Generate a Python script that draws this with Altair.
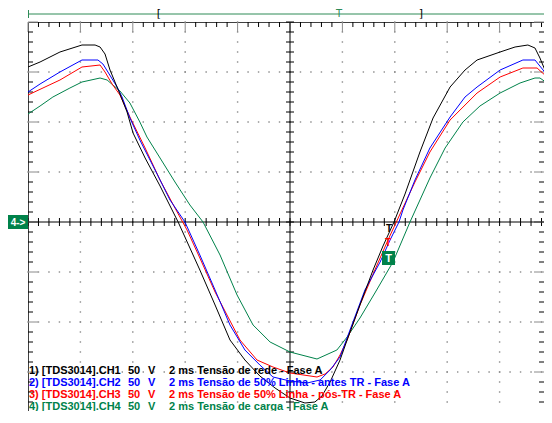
import altair as alt
import pandas as pd
import numpy as np

# ---------------- data (time in ms, voltage in V) ----------------
T_CH1 = [0, 0.46, 1.22, 2.06, 2.56, 2.75, 2.94, 3.13, 3.32, 3.51, 3.78, 4.01, 4.47, 5.04, 5.73, 6.18, 6.56, 7.14,
         7.71, 8.28, 8.85, 9.43, 10.0, 10.57, 10.95, 11.22, 11.53, 11.91, 12.18, 12.67, 13.17, 13.55, 13.97, 14.39,
         14.96, 15.46, 16.11, 16.68, 17.14, 18.02, 18.59, 19.08, 19.35, 19.54, 19.73, 20.0]
V_CH1 = [155, 160, 170, 177, 177, 175, 168, 152, 140, 128, 110, 89, 64, 36, 0, -26, -48, -83,
         -118, -138, -154, -166, -176, -181, -180, -174, -160, -138, -118, -83, -48, -24, 0, 28,
         70, 104, 135, 152, 162, 170, 175, 177, 174, 164, 152, 137]

T_CH2 = [0, 0.46, 1.22, 2.06, 2.67, 2.86, 3.05, 3.4, 3.59, 3.89, 4.27, 4.85, 5.42, 5.99, 6.56, 7.14, 7.71, 8.28,
         8.85, 9.35, 10.0, 10.65, 11.15, 11.53, 11.91, 12.29, 12.86, 13.44, 13.82, 14.16, 14.31, 14.77, 15.34,
         16.11, 16.68, 17.14, 18.02, 18.89, 19.35, 19.66, 20.0]
V_CH2 = [130, 138, 150, 162, 162, 158, 150, 135, 125, 104, 82, 52, 22, 0, -33, -68, -103, -128,
         -143, -155, -159, -161, -158, -148, -135, -108, -68, -40, -18, 0, 12, 42, 74,
         105, 125, 135, 152, 162, 162, 152, 140]

T_CH3 = [0, 0.65, 1.22, 2.06, 2.75, 2.94, 3.21, 3.51, 3.89, 4.47, 5.04, 5.61, 6.07, 6.56, 7.14, 8.09, 8.74, 9.35,
         10.0, 11.03, 11.34, 11.64, 11.91, 12.18, 12.67, 13.24, 13.74, 14.2, 14.77, 15.34, 16.11, 17.14, 18.02,
         18.89, 19.43, 19.81, 20.0]
V_CH3 = [127, 135, 142, 155, 157, 150, 138, 127, 105, 74, 42, 14, -8, -36, -70, -118, -138, -145,
         -151, -155, -152, -145, -133, -118, -83, -48, -18, 8, 40, 70, 102, 129, 145,
         154, 154, 145, 139]

T_CH4 = [0, 0.46, 0.95, 1.6, 2.06, 2.75, 3.02, 3.24, 3.51, 3.89, 4.27, 4.54, 5.04, 5.61, 6.18, 6.68, 7.33, 7.98,
         8.59, 9.24, 10.0, 11.03, 11.79, 12.18, 12.67, 13.24, 13.93, 14.58, 15.34, 15.92, 16.6, 17.25, 18.02,
         18.78, 19.35, 19.54, 19.81, 20.0]
V_CH4 = [108, 116, 125, 134, 140, 144, 142, 137, 131, 119, 100, 85, 64, 40, 17, 0, -33, -73,
         -103, -120, -130, -137, -128, -115, -96, -71, -40, 0, 44, 74, 100, 116, 129,
         139, 144, 144, 139, 135]

CHANNELS = ["CH1", "CH2", "CH3", "CH4"]
COLORS = ["#000000", "#0000FF", "#FF0000", "#00824A"]
LABELS = ["1) [TDS3014].CH1", "2) [TDS3014].CH2", "3) [TDS3014].CH3", "4) [TDS3014].CH4"]
SCALE_TXT = ["50", "50", "50", "50"]
UNIT_TXT = ["V", "V", "V", "V"]
DESCS = ["2 ms Tensão de rede - Fase A",
         "2 ms Tensão de 50% Linha - antes TR - Fase A",
         "2 ms Tensão de 50% Linha - pós-TR - Fase A",
         "2 ms Tensão de carga - Fase A"]

# screen: 2 ms/div horizontally, 50 V/div vertically (edges trimmed to fit the window)
PX_T = 26.2               # px per ms
W = 516
T_VIS = W / PX_T          # visible time span
V_TOP, V_BOTTOM = 200, -200
V_VISIBLE = -189          # lowest voltage that fits in the window
H = V_TOP - V_VISIBLE     # 1 px per volt

xs = alt.Scale(domain=[0, T_VIS], nice=False, zero=False)
ys = alt.Scale(domain=[V_VISIBLE, V_TOP], nice=False, zero=False)


def X(f):
    return alt.X(f, type="quantitative", scale=xs, axis=None)


def Y(f):
    return alt.Y(f, type="quantitative", scale=ys, axis=None)


# ---------------- graticule ----------------
minor_t = np.round(np.arange(0, 20 + 1e-9, 0.4), 3)
minor_t = minor_t[minor_t <= T_VIS]
minor_v = np.arange(V_BOTTOM, V_TOP + 1, 10)
minor_v = minor_v[minor_v >= V_VISIBLE]
major_t = np.arange(2, 20, 2)
major_v = np.arange(-150, 151, 50)

dots = []
for t in major_t:
    if t == 10:
        continue
    for v in minor_v:
        dots.append({"t": t, "v": v})
for v in major_v:
    if v == 0:
        continue
    for t in minor_t:
        dots.append({"t": t, "v": v})
dots_df = pd.DataFrame(dots)

ticks = []
for t in minor_t:
    is_major = abs(t / 2 - round(t / 2)) < 1e-6
    L = 10 if is_major else 5
    col = "#8a8a8a" if is_major else "#000000"
    ticks.append({"x": t, "x2": t, "y": V_TOP, "y2": V_TOP - L, "c": col})
    ticks.append({"x": t, "x2": t, "y": -4, "y2": 4, "c": "#000000"})
for v in minor_v:
    is_major = v % 50 == 0
    L = (10 if is_major else 5) / PX_T
    col = "#8a8a8a" if is_major else "#000000"
    ticks.append({"x": 0, "x2": L, "y": v, "y2": v, "c": col})
    ticks.append({"x": T_VIS, "x2": T_VIS - L, "y": v, "y2": v, "c": col})
    ticks.append({"x": 10 - 4 / PX_T, "x2": 10 + 4 / PX_T, "y": v, "y2": v, "c": "#000000"})
# center cross lines
ticks.append({"x": 0, "x2": T_VIS, "y": 0, "y2": 0, "c": "#000000"})
ticks.append({"x": 10, "x2": 10, "y": V_VISIBLE, "y2": V_TOP, "c": "#000000"})
ticks_df = pd.DataFrame(ticks)

dots_layer = alt.Chart(dots_df).mark_square(size=2, color="#8c8c8c", opacity=1).encode(x=X("t"), y=Y("v"))
ticks_layer = alt.Chart(ticks_df).mark_rule(strokeWidth=1).encode(
    x=X("x"), x2="x2", y=Y("y"), y2="y2", color=alt.Color("c:N", scale=None))

# ---------------- traces ----------------
trace_layers = []
for t_list, v_list, col in [(T_CH4, V_CH4, COLORS[3]), (T_CH3, V_CH3, COLORS[2]),
                            (T_CH2, V_CH2, COLORS[1]), (T_CH1, V_CH1, COLORS[0])]:
    df = pd.DataFrame({"t": t_list, "v": v_list})
    trace_layers.append(
        alt.Chart(df).mark_line(color=col, strokeWidth=1, clip=True).encode(x=X("t"), y=Y("v"))
    )

# ---------------- legend text ----------------
leg_df = pd.DataFrame({"row": range(4), "ch": CHANNELS, "label": LABELS,
                       "sc": SCALE_TXT, "un": UNIT_TXT, "desc": DESCS})
cscale = alt.Scale(domain=CHANNELS, range=COLORS)
text_layers = []
for field, px in [("label", 1), ("sc", 100), ("un", 120), ("desc", 141)]:
    text_layers.append(
        alt.Chart(leg_df).transform_calculate(py="352 + 12*datum.row").mark_text(
            align="left", baseline="alphabetic", font="Liberation Sans", fontSize=11, fontWeight="bold"
        ).encode(x=alt.value(px), y=alt.Y("py:Q", scale=None),
                 text=alt.Text(field + ":N"), color=alt.Color("ch:N", scale=cscale, legend=None))
    )

# ---------------- scope markers ----------------
one = alt.Data(values=[{"a": 1}])
G = "#00824A"
ZERO_PX = V_TOP  # pixel row of 0 V inside the plot
markers = [
    # top record bar
    alt.Chart(one).mark_rule(color="#2E8B57", strokeWidth=1).encode(
        x=alt.value(0), x2=alt.value(W), y=alt.value(-8)),
    alt.Chart(one).mark_rule(color="#2E8B57", strokeWidth=1).encode(
        x=alt.value(0.5), y=alt.value(-12), y2=alt.value(-4)),
    alt.Chart(one).mark_text(text="[", color="#000000", fontSize=11, font="DejaVu Sans").encode(
        x=alt.value(131), y=alt.value(-8)),
    alt.Chart(one).mark_text(text="T", color="#2E8B57", fontSize=10, font="DejaVu Sans").encode(
        x=alt.value(311), y=alt.value(-8)),
    alt.Chart(one).mark_text(text="]", color="#000000", fontSize=11, font="DejaVu Sans").encode(
        x=alt.value(393), y=alt.value(-8)),
    # channel 4 ground marker
    alt.Chart(one).mark_rect(color=G).encode(
        x=alt.value(-20), x2=alt.value(0), y=alt.value(ZERO_PX - 7), y2=alt.value(ZERO_PX + 7)),
    alt.Chart(one).mark_text(text="4->", color="white", fontSize=10, fontWeight="bold",
                             font="Liberation Sans").encode(x=alt.value(-10), y=alt.value(ZERO_PX + 0.5)),
    # trigger marker
    alt.Chart(one).mark_rect(color=G).encode(
        x=alt.value(354), x2=alt.value(367), y=alt.value(229), y2=alt.value(243)),
    alt.Chart(one).mark_text(text="T", color="white", fontSize=11, fontWeight="bold",
                             font="Liberation Sans").encode(x=alt.value(360.5), y=alt.value(236.5)),
    alt.Chart(one).mark_text(text="T", color="#000000", fontSize=10, fontWeight="bold",
                             font="Liberation Sans").encode(x=alt.value(361), y=alt.value(207)),
    alt.Chart(one).mark_text(text="T", color="#FF0000", fontSize=10, fontWeight="bold",
                             font="Liberation Sans").encode(x=alt.value(360), y=alt.value(221)),
]

chart = alt.layer(dots_layer, ticks_layer, *trace_layers, *markers, *text_layers).properties(
    width=W, height=H,
    autosize=alt.AutoSizeParams(type="none"),
    padding={"left": 20, "top": 14, "right": 0, "bottom": 0},
    background="white",
).configure_view(stroke="#404040", strokeWidth=1)

chart.save("out.html", embed_options={"renderer": "svg", "actions": False})
